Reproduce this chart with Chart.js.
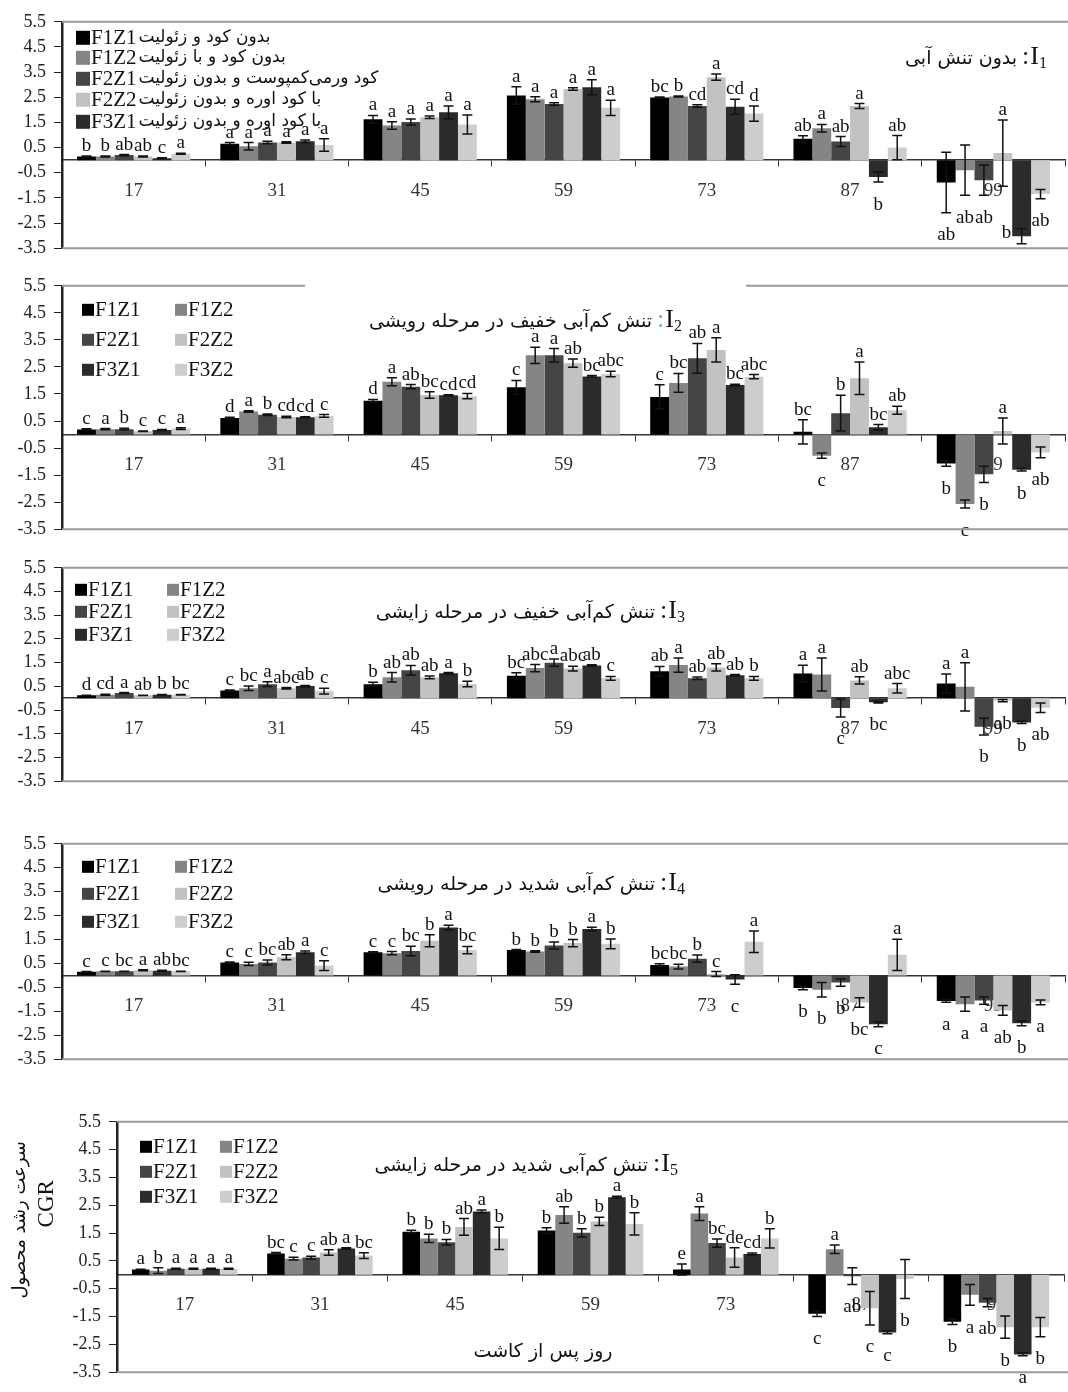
<!DOCTYPE html>
<html>
<head>
<meta charset="utf-8">
<script src="https://cdn.jsdelivr.net/npm/chart.js@4.4.1/dist/chart.umd.min.js"></script>
<style>
  body { margin: 0; background: #fff; }
  #page { position: relative; width: 1068px; height: 1392px; overflow: hidden; }
  .panel { position: absolute; left: 0; width: 1068px; }
</style>
</head>
<body>
<div id="page">
  <div class="panel" style="top:3px;height:264px"><canvas id="c1"></canvas></div>
  <div class="panel" style="top:267px;height:281px"><canvas id="c2"></canvas></div>
  <div class="panel" style="top:549px;height:251px"><canvas id="c3"></canvas></div>
  <div class="panel" style="top:825px;height:253px"><canvas id="c4"></canvas></div>
  <div class="panel" style="top:1103px;height:288px"><canvas id="c5"></canvas></div>
</div>
<script>
// days after sowing (x categories) and treatments (series)
const days = ["17", "31", "45", "59", "73", "87", "99"];
const treatments = ["F1Z1", "F1Z2", "F2Z1", "F2Z2", "F3Z1", "F3Z2"];
const treatmentNames = [
  "بدون کود و زئولیت",
  "بدون کود و با زئولیت",
  "کود ورمی‌کمپوست و بدون زئولیت",
  "با کود اوره و بدون زئولیت",
  "با کود اوره و بدون زئولیت",
];
const yTicks = [5.5, 4.5, 3.5, 2.5, 1.5, 0.5, -0.5, -1.5, -2.5, -3.5];

// rows follow treatments, columns follow days
const i1Means = [
  [0.15, 0.65, 1.63, 2.57, 2.49, 0.85, -0.89],
  [0.15, 0.55, 1.38, 2.42, 2.53, 1.27, -0.4],
  [0.2, 0.7, 1.52, 2.23, 2.15, 0.74, -0.8],
  [0.15, 0.7, 1.71, 2.83, 3.3, 2.15, 0.28],
  [0.08, 0.75, 1.9, 2.9, 2.12, -0.67, -3.02],
  [0.25, 0.6, 1.42, 2.08, 1.85, 0.5, -1.35],
];
const i1Errors = [
  [0.02, 0.05, 0.15, 0.35, 0.02, 0.12, 1.2],
  [0.02, 0.15, 0.15, 0.1, 0.02, 0.15, 1.0],
  [0.02, 0.05, 0.12, 0.05, 0.05, 0.2, 0.6],
  [0.02, 0.03, 0.05, 0.05, 0.12, 0.1, 1.32],
  [0.02, 0.05, 0.25, 0.3, 0.3, 0.2, 0.3],
  [0.02, 0.25, 0.38, 0.3, 0.3, 0.48, 0.18],
];
const i1Letters = [
  ["b", "a", "a", "a", "bc", "ab", "ab"],
  ["b", "a", "a", "a", "b", "a", "ab"],
  ["ab", "a", "a", "a", "cd", "ab", "ab"],
  ["ab", "a", "a", "a", "a", "a", "a"],
  ["c", "a", "a", "a", "cd", "b", "b"],
  ["a", "a", "a", "a", "d", "ab", "ab"],
];

const i2Means = [
  [0.19, 0.61, 1.25, 1.75, 1.39, 0.1, -1.07],
  [0.2, 0.85, 1.95, 2.93, 1.91, -0.78, -2.57],
  [0.2, 0.73, 1.77, 2.93, 2.82, 0.79, -1.47],
  [0.12, 0.65, 1.46, 2.64, 3.13, 2.08, 0.13],
  [0.17, 0.64, 1.45, 2.15, 1.83, 0.27, -1.3],
  [0.22, 0.69, 1.42, 2.24, 2.14, 0.9, -0.66],
];
const i2Errors = [
  [0.02, 0.03, 0.05, 0.25, 0.45, 0.45, 0.1],
  [0.02, 0.03, 0.15, 0.3, 0.35, 0.1, 0.15],
  [0.03, 0.03, 0.08, 0.25, 0.55, 0.66, 0.3],
  [0.01, 0.03, 0.12, 0.15, 0.45, 0.6, 0.48],
  [0.02, 0.02, 0.02, 0.03, 0.03, 0.1, 0.05],
  [0.03, 0.05, 0.1, 0.1, 0.08, 0.15, 0.2],
];
const i2Letters = [
  ["c", "d", "d", "c", "c", "bc", "b"],
  ["a", "a", "a", "a", "bc", "c", "c"],
  ["b", "b", "ab", "a", "ab", "b", "b"],
  ["c", "cd", "bc", "ab", "a", "a", "a"],
  ["c", "cd", "cd", "bc", "bc", "bc", "b"],
  ["a", "c", "cd", "abc", "abc", "ab", "ab"],
];

const i3Means = [
  [0.12, 0.33, 0.59, 0.95, 1.14, 1.04, 0.62],
  [0.15, 0.42, 0.88, 1.27, 1.4, 1.0, 0.48],
  [0.22, 0.59, 1.18, 1.5, 0.84, -0.41, -1.2],
  [0.12, 0.42, 0.88, 1.25, 1.3, 0.75, -0.1],
  [0.15, 0.51, 1.05, 1.38, 0.97, -0.17, -1.02],
  [0.15, 0.3, 0.6, 0.84, 0.84, 0.42, -0.4],
];
const i3Errors = [
  [0.01, 0.02, 0.08, 0.12, 0.2, 0.35, 0.4],
  [0.02, 0.1, 0.2, 0.15, 0.3, 0.7, 1.02],
  [0.02, 0.1, 0.2, 0.15, 0.05, 0.38, 0.35],
  [0.01, 0.03, 0.06, 0.1, 0.15, 0.15, 0.05],
  [0.01, 0.03, 0.03, 0.03, 0.03, 0.03, 0.05],
  [0.01, 0.12, 0.12, 0.08, 0.08, 0.2, 0.2],
];
const i3Letters = [
  ["d", "c", "b", "bc", "ab", "a", "a"],
  ["cd", "bc", "ab", "abc", "a", "a", "a"],
  ["a", "a", "ab", "a", "ab", "c", "b"],
  ["ab", "abc", "ab", "abc", "ab", "ab", "ab"],
  ["b", "ab", "a", "ab", "ab", "bc", "b"],
  ["bc", "c", "b", "c", "b", "abc", "ab"],
];

const i4Means = [
  [0.15, 0.54, 0.97, 1.06, 0.44, -0.53, -1.07],
  [0.17, 0.48, 0.93, 1.0, 0.37, -0.6, -1.2],
  [0.17, 0.54, 1.02, 1.25, 0.7, -0.3, -1.05],
  [0.22, 0.76, 1.45, 1.35, 0.06, -1.13, -1.46],
  [0.2, 0.97, 2.0, 1.94, -0.17, -2.04, -2.0],
  [0.17, 0.41, 1.06, 1.32, 1.41, 0.86, -1.13],
];
const i4Errors = [
  [0.01, 0.02, 0.02, 0.02, 0.05, 0.07, 0.05],
  [0.01, 0.07, 0.07, 0.03, 0.1, 0.3, 0.3],
  [0.01, 0.1, 0.2, 0.15, 0.15, 0.15, 0.15],
  [0.02, 0.1, 0.25, 0.15, 0.1, 0.2, 0.2],
  [0.02, 0.05, 0.1, 0.07, 0.2, 0.1, 0.1],
  [0.01, 0.2, 0.15, 0.2, 0.45, 0.65, 0.1],
];
const i4Letters = [
  ["c", "c", "c", "b", "bc", "b", "a"],
  ["c", "c", "c", "b", "bc", "b", "a"],
  ["bc", "bc", "bc", "b", "b", "b", "a"],
  ["a", "ab", "b", "b", "c", "bc", "ab"],
  ["ab", "a", "a", "a", "c", "c", "b"],
  ["bc", "c", "bc", "b", "a", "a", "a"],
];

const i5Means = [
  [0.19, 0.77, 1.55, 1.59, 0.19, -1.4, -1.69],
  [0.15, 0.58, 1.31, 2.15, 2.2, 0.92, -0.72],
  [0.22, 0.62, 1.17, 1.51, 1.14, -0.05, -1.0],
  [0.22, 0.8, 1.72, 1.92, 0.62, -1.2, -1.88],
  [0.22, 0.95, 2.28, 2.79, 0.75, -2.07, -2.86],
  [0.22, 0.69, 1.31, 1.83, 1.31, -0.15, -1.88],
];
const i5Errors = [
  [0.01, 0.03, 0.05, 0.1, 0.2, 0.1, 0.1],
  [0.1, 0.05, 0.15, 0.3, 0.25, 0.15, 0.37],
  [0.02, 0.05, 0.1, 0.15, 0.15, 0.3, 0.15],
  [0.02, 0.1, 0.3, 0.15, 0.35, 0.6, 0.4],
  [0.02, 0.02, 0.05, 0.03, 0.03, 0.05, 0.05],
  [0.02, 0.1, 0.4, 0.4, 0.35, 0.7, 0.35],
];
const i5Letters = [
  ["a", "bc", "b", "b", "e", "c", "b"],
  ["b", "c", "b", "ab", "a", "a", "a"],
  ["a", "c", "b", "b", "bc", "ab", "ab"],
  ["a", "ab", "ab", "b", "de", "c", "b"],
  ["a", "a", "a", "a", "cd", "c", "a"],
  ["a", "bc", "b", "b", "b", "b", "b"],
];

const barColors = ["#000000", "#858585", "#454545", "#c2c2c2", "#2b2b2b", "#cdcdcd"];
const serif = '"Liberation Serif", "Times New Roman", serif';
const persian = '"DejaVu Sans", sans-serif';
const ink = "#111";

Chart.defaults.font.family = serif;

function drawTitle(ctx, cfg, area) {
  const y = area.top + cfg.titleDy;
  let x = cfg.titleRight;
  ctx.textBaseline = "alphabetic";
  ctx.textAlign = "right";
  ctx.fillStyle = ink;
  ctx.font = "16px " + serif;
  ctx.fillText(cfg.titleNum, x, y + 4);
  x -= ctx.measureText(cfg.titleNum).width;
  ctx.font = "26px " + serif;
  ctx.fillText("I", x, y);
  x -= ctx.measureText("I").width + 1;
  ctx.fillStyle = cfg.colonColor || ink;
  ctx.fillText(":", x, y);
  x -= ctx.measureText(":").width + 5;
  ctx.fillStyle = ink;
  ctx.font = "19px " + persian;
  ctx.direction = "rtl";
  ctx.fillText(cfg.titleText, x, y);
  ctx.direction = "ltr";
}

function drawLegend(ctx, cfg, area) {
  const lg = cfg.legend;
  ctx.textBaseline = "middle";
  ctx.textAlign = "left";
  lg.items.forEach((k, n) => {
    const col = n % lg.cols.length;
    const row = Math.floor(n / lg.cols.length);
    const x = lg.cols[col];
    const y = area.top + lg.rows[row];
    ctx.fillStyle = barColors[k];
    ctx.fillRect(x, y - lg.box / 2, lg.box, lg.box);
    ctx.fillStyle = ink;
    ctx.font = "21px " + serif;
    ctx.fillText(treatments[k], x + lg.box + 1, y + 1);
    if (lg.names) {
      const w = ctx.measureText(treatments[k]).width;
      ctx.font = "17px " + persian;
      ctx.fillText(treatmentNames[k], x + lg.box + w + 3, y);
    }
  });
}

function makeDeco(cfg) {
  return {
    id: "panelDeco",
    afterDatasetsDraw(chart) {
      const ctx = chart.ctx;
      const yScale = chart.scales.y;
      ctx.save();
      chart.data.datasets.forEach((ds, k) => {
        chart.getDatasetMeta(k).data.forEach((bar, j) => {
          const v = ds.data[j];
          const e = ds.errors[j];
          const yHi = yScale.getPixelForValue(v + e);
          const yLo = yScale.getPixelForValue(v - e);
          ctx.strokeStyle = ink;
          ctx.lineWidth = 1.5;
          ctx.beginPath();
          ctx.moveTo(bar.x, yHi);
          ctx.lineTo(bar.x, yLo);
          ctx.moveTo(bar.x - 5, yHi);
          ctx.lineTo(bar.x + 5, yHi);
          ctx.moveTo(bar.x - 5, yLo);
          ctx.lineTo(bar.x + 5, yLo);
          ctx.stroke();
          ctx.fillStyle = ink;
          ctx.font = "19px " + serif;
          ctx.textAlign = "center";
          if (v >= 0) {
            ctx.textBaseline = "alphabetic";
            ctx.fillText(ds.letters[j], bar.x, yHi - 5);
          } else if (yLo + 25 > chart.height) {
            // no room underneath: put the letter beside the bar
            ctx.textBaseline = "alphabetic";
            ctx.textAlign = "right";
            ctx.fillText(ds.letters[j], bar.x - bar.width / 2 - 1, chart.chartArea.bottom - 10);
          } else {
            ctx.textBaseline = "top";
            ctx.fillText(ds.letters[j], bar.x, yLo + 13);
          }
        });
      });
      ctx.restore();
    },
    afterDraw(chart) {
      const ctx = chart.ctx;
      const area = chart.chartArea;
      ctx.save();
      // frame lines top and bottom
      ctx.strokeStyle = "#9a9a9a";
      ctx.lineWidth = 2;
      ctx.beginPath();
      if (cfg.topGap) {
        ctx.moveTo(area.left, area.top);
        ctx.lineTo(cfg.topGap[0], area.top);
        ctx.moveTo(cfg.topGap[1], area.top);
        ctx.lineTo(chart.width, area.top);
      } else {
        ctx.moveTo(area.left, area.top);
        ctx.lineTo(chart.width, area.top);
      }
      ctx.moveTo(area.left, area.bottom);
      ctx.lineTo(chart.width, area.bottom);
      ctx.stroke();

      drawTitle(ctx, cfg, area);
      drawLegend(ctx, cfg, area);

      if (cfg.axisTitles) {
        ctx.fillStyle = ink;
        ctx.textAlign = "center";
        ctx.textBaseline = "middle";
        ctx.font = "19px " + persian;
        ctx.fillText("روز پس از کاشت", 543, area.top + 230);
        ctx.save();
        ctx.translate(20, area.top + 98);
        ctx.rotate(-Math.PI / 2);
        ctx.font = "18px " + persian;
        ctx.fillText("سرعت رشد محصول", 0, 0);
        ctx.restore();
        ctx.save();
        ctx.translate(47, area.top + 82);
        ctx.rotate(-Math.PI / 2);
        ctx.font = "23px " + serif;
        ctx.fillText("CGR", 0, 0);
        ctx.restore();
      }
      ctx.restore();
    },
  };
}

function makePanel(id, means, errors, letters, cfg) {
  new Chart(document.getElementById(id), {
    type: "bar",
    data: {
      labels: days,
      datasets: treatments.map((name, k) => ({
        label: name,
        data: means[k],
        errors: errors[k],
        letters: letters[k],
        backgroundColor: barColors[k],
        borderWidth: 0,
        categoryPercentage: cfg.groupWidth,
        barPercentage: 1.0,
      })),
    },
    options: {
      animation: false,
      responsive: true,
      maintainAspectRatio: false,
      layout: { padding: { left: 0, right: cfg.padRight, top: 12, bottom: cfg.padBottom } },
      plugins: {
        legend: { display: false },
        tooltip: { enabled: false },
      },
      scales: {
        x: {
          position: { y: 0 },
          afterFit: (scale) => { scale.height = 0; },
          grid: { drawOnChartArea: false, drawTicks: true, tickLength: 6, tickColor: "#333", offset: true },
          border: { display: true, color: "#333", width: 1.5 },
          ticks: { color: "#333", font: { size: 19 }, padding: 13, autoSkip: false, maxRotation: 0 },
        },
        y: {
          min: -3.5,
          max: 5.5,
          afterBuildTicks: (scale) => { scale.ticks = yTicks.map((v) => ({ value: v })); },
          afterFit: (scale) => { scale.width = cfg.axisWidth; },
          grid: { drawOnChartArea: false, tickLength: 8, tickColor: "#222" },
          border: { color: "#222", width: 2.5 },
          ticks: {
            color: "#222",
            font: { size: 18 },
            padding: 8,
            autoSkip: false,
            callback: (v) => Number(v).toFixed(1),
          },
        },
      },
    },
    plugins: [makeDeco(cfg)],
  });
}

const twoCols = [0, 1, 2, 3, 4, 5];

makePanel("c1", i1Means, i1Errors, i1Letters, {
  axisWidth: 62, padRight: 3, padBottom: 10, groupWidth: 0.79,
  titleNum: "1", titleText: "بدون تنش آبی", titleRight: 1047, titleDy: 42,
  legend: { items: [0, 1, 2, 3, 4], cols: [76], rows: [16, 36, 57, 78, 100], box: 14, names: true },
});
makePanel("c2", i2Means, i2Errors, i2Letters, {
  axisWidth: 62, padRight: 3, padBottom: 10, groupWidth: 0.79,
  titleNum: "2", titleText: "تنش کم‌آبی خفیف در مرحله رویشی", titleRight: 682, titleDy: 41,
  colonColor: "#4fb6d6", topGap: [305, 746],
  legend: { items: twoCols, cols: [82, 175], rows: [24, 54, 84], box: 12 },
});
makePanel("c3", i3Means, i3Errors, i3Letters, {
  axisWidth: 62, padRight: 3, padBottom: 10, groupWidth: 0.79,
  titleNum: "3", titleText: "تنش کم‌آبی خفیف در مرحله زایشی", titleRight: 685, titleDy: 50,
  legend: { items: twoCols, cols: [75, 167], rows: [22, 44, 67], box: 12 },
});
makePanel("c4", i4Means, i4Errors, i4Letters, {
  axisWidth: 62, padRight: 3, padBottom: 10, groupWidth: 0.79,
  titleNum: "4", titleText: "تنش کم‌آبی شدید در مرحله رویشی", titleRight: 685, titleDy: 46,
  legend: { items: twoCols, cols: [82, 175], rows: [23, 50, 78], box: 12 },
});
makePanel("c5", i5Means, i5Errors, i5Letters, {
  axisWidth: 117, padRight: 4, padBottom: 8, groupWidth: 0.78,
  titleNum: "5", titleText: "تنش کم‌آبی شدید در مرحله زایشی", titleRight: 678, titleDy: 49,
  axisTitles: true,
  legend: { items: twoCols, cols: [140, 220], rows: [25, 50, 75], box: 12 },
});
</script>
</body>
</html>
